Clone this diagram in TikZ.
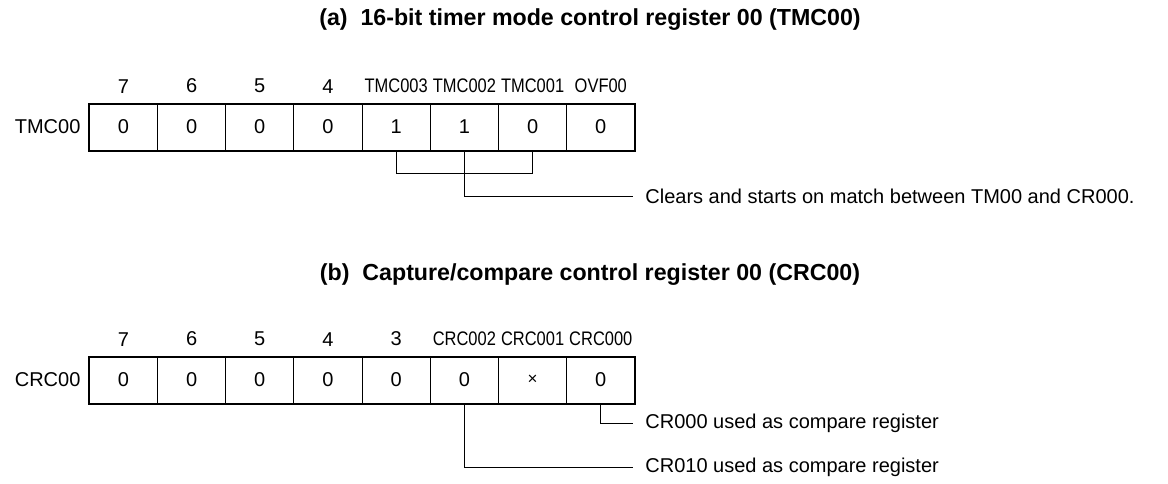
\documentclass[tikz,border=0pt]{standalone}
\usepackage{fontspec}
\setmainfont{Liberation Sans}
\newfontfamily\narrowfont[FakeStretch=0.84]{Liberation Sans}
\usetikzlibrary{positioning}

\newcommand{\bitnm}[1]{{\narrowfont\fontsize{9.8}{11}\selectfont #1}}

\tikzset{
  bitcell/.style={draw, line width=0.5pt, minimum width=34.1pt, minimum height=23pt,
    inner sep=0pt, font=\fontsize{10}{12}\selectfont},
  bitlbl/.style={inner sep=0pt, font=\fontsize{10}{12}\selectfont},
  regname/.style={inner sep=0pt, font=\fontsize{10}{12}\selectfont},
  note/.style={anchor=west, inner sep=6pt, font=\fontsize{10}{12}\selectfont},
  heading/.style={font=\bfseries\fontsize{11.6}{13}\selectfont},
  lead/.style={line width=0.45pt},
}

\begin{document}
\begin{tikzpicture}[x=0.5pt, y=-0.5pt]
  \useasboundingbox (0,0) rectangle (1168,483);

  % (a) Registre TMC00
  \node[heading] (ta) at (590,20) {(a)~~16-bit timer mode control register 00 (TMC00)};
  \foreach \i/\b/\v in {1/7/0, 2/6/0, 3/5/0, 4/4/0, 5/{\bitnm{TMC003}}/1,
                        6/{\bitnm{TMC002}}/1, 7/{\bitnm{TMC001}}/0, 8/{\bitnm{OVF00}}/0} {
    \node[bitcell] (a\i) at ({123.4+(\i-1)*68.2},127) {\v};
    \node[bitlbl, above=5pt of a\i] (la\i) {\b};
  }
  \draw[line width=1pt] (a1.north west) rectangle (a8.south east);
  \node[regname, left=4pt of a1] (ra) {TMC00};

  % Clau i nota
  \coordinate (ya) at (0,173);
  \node[note] (na) at (633,196) {Clears and starts on match between TM00 and CR000.};
  \draw[lead] (a5.south) |- (ya -| a7.south) -- (a7.south);
  \draw[lead] (a6.south) |- (na.west);

  % (b) Registre CRC00
  \node[heading] (tb) at (590,275) {(b)~~Capture/compare control register 00 (CRC00)};
  \foreach \i/\b/\v in {1/7/0, 2/6/0, 3/5/0, 4/4/0, 5/3/0, 6/{\bitnm{CRC002}}/0,
                        7/{\bitnm{CRC001}}/{{\fontsize{8.5}{10}\selectfont ×}}, 8/{\bitnm{CRC000}}/0} {
    \node[bitcell] (b\i) at ({123.4+(\i-1)*68.2},380) {\v};
    \node[bitlbl, above=5pt of b\i] (lb\i) {\b};
  }
  \draw[line width=1pt] (b1.north west) rectangle (b8.south east);
  \node[regname, left=4pt of b1] (rb) {CRC00};

  % Notes
  \node[note] (nb0) at (633,423) {CR000 used as compare register};
  \node[note] (nb1) at (633,467) {CR010 used as compare register};
  \draw[lead] (b8.south) |- (nb0.west);
  \draw[lead] (b6.south) |- (nb1.west);
\end{tikzpicture}
\end{document}
